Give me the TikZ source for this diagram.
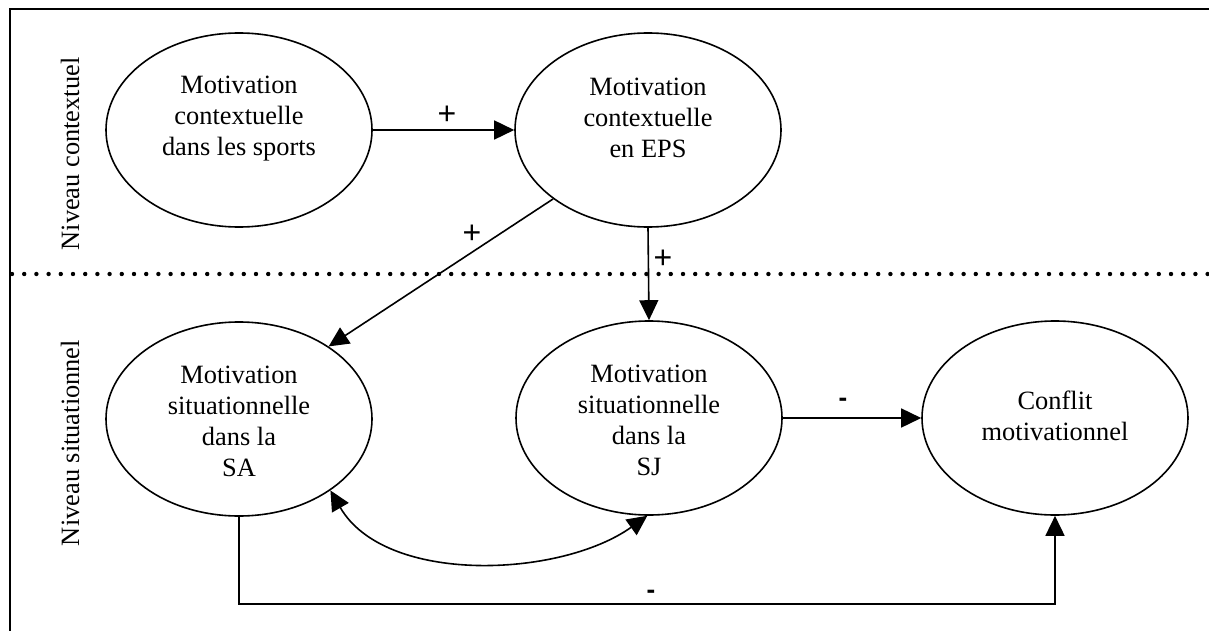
\documentclass[tikz,border=0pt]{standalone}
\usepackage{fontspec}
\setmainfont{Liberation Serif}
\setsansfont{Liberation Sans}
\usetikzlibrary{arrows.meta,shapes.geometric}
\begin{document}
\begin{tikzpicture}[x=1pt,y=-1pt,
  ell/.style={draw,line width=1.6pt,ellipse,minimum width=266pt,minimum height=194pt,inner sep=0pt},
  txt/.style={align=center,font=\fontsize{26.4}{31}\selectfont,inner sep=0pt},
  lbl/.style={font=\fontsize{26.4}{31}\selectfont,inner sep=0pt},
  plus/.style={font=\sffamily\fontsize{32}{32}\selectfont,inner sep=0pt},
  minus/.style={font=\sffamily\bfseries\fontsize{26}{26}\selectfont,inner sep=0pt},
  conn/.style={line width=1.6pt,-{Triangle[length=20pt,width=19pt]}},
  plain/.style={line width=1.6pt}]
\useasboundingbox (0,0) rectangle (1209,631);
\clip (0,0) rectangle (1209,631);
% frame (extends past the right and bottom edges)
\draw[line width=2.2pt] (10,9) rectangle (1230,650);
% dotted separator
\draw[line width=4.4pt,dash pattern=on 0pt off 12.2pt,line cap=round] (12,274) -- (1215,274);
% side labels
\node[lbl,rotate=90] (nc) at (70,154) {Niveau contextuel};
\node[lbl,rotate=90] (ns) at (70,443) {Niveau situationnel};
% ellipses
\node[ell] (A) at (239,130) {};
\node[ell] (B) at (648,130) {};
\node[ell] (SA) at (239,419) {};
\node[ell] (SJ) at (649,418) {};
\node[ell] (C) at (1055,418) {};
% texts
\node[txt] (tA) at (239,119) {Motivation\\contextuelle\\dans les sports};
\node[txt] (tB) at (648,118) {Motivation\\contextuelle\\en EPS};
\node[txt] (tSA) at (239,421) {Motivation\\situationnelle\\dans la\\SA};
\node[txt] (tSJ) at (649,420) {Motivation\\situationnelle\\dans la\\SJ};
\node[txt] (tC) at (1055,416) {Conflit\\motivationnel};
% connectors
\draw[conn] (A.east) -- (B.west);
\draw[conn] (B.216) -- (SA.39);
\draw[conn] (B.south) -- (SJ.north);
\draw[conn] (SJ.east) -- (C.west);
\coordinate (bl) at (239,604);
\draw[conn] (SA.south) -- (bl) -| (C.south);
\draw[line width=1.6pt,{Triangle[length=20pt,width=19pt]}-{Triangle[length=20pt,width=19pt]}]
  (SA.-38) .. controls (385,585) and (560,578) .. (SJ.269);
% signs
\node[plus] (p1) at (447,115) {+};
\node[plus] (p2) at (472,234) {+};
\node[plus] (p3) at (663,259) {+};
\node[minus] (m1) at (843,402) {-};
\node[minus] (m2) at (651,594) {-};
\end{tikzpicture}
\end{document}
